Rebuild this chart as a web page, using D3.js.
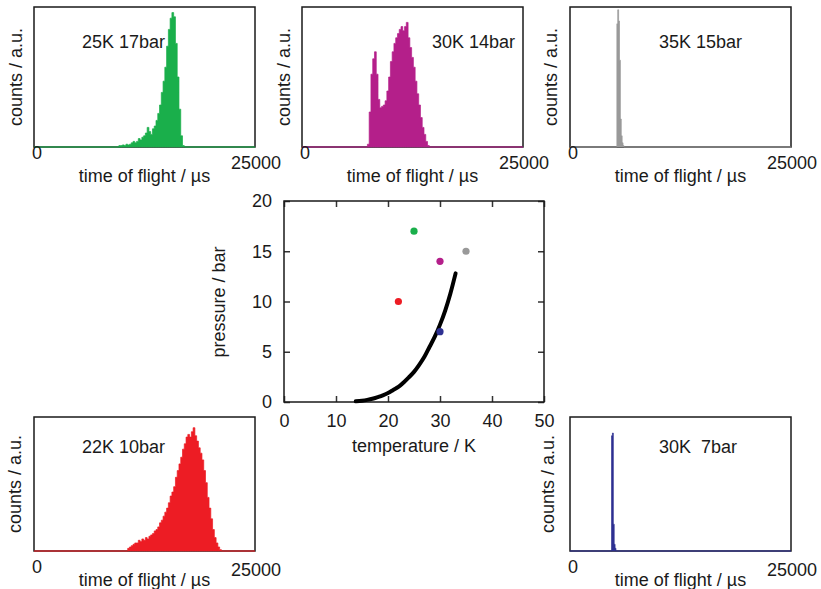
<!DOCTYPE html>
<html>
<head>
<meta charset="utf-8">
<script src="https://cdn.jsdelivr.net/npm/d3@7"></script>
<style>
  body { margin: 0; background: #fff; }
  svg { display: block; font-family: "Liberation Sans", Arial, sans-serif; }
</style>
</head>
<body>
<svg id="chart" width="821" height="589"></svg>
<script>
// time of flight histograms (counts in % of panel height), bins start at *Start in µs
const tofMax = 25000;

const greenStart = 9600, greenBin = 200;
const greenCounts = [1, 1, 1.5, 1, 2, 1.5, 2, 3, 4, 3, 4, 6, 5, 7, 8, 10, 14, 11, 9, 13,
  15, 19, 24, 30, 39, 47, 57, 72, 84, 92, 96, 93, 74, 50, 27, 8, 1];

const magentaStart = 7400, magentaBin = 200;
const magentaCounts = [2, 25, 52, 63, 68, 52, 34, 28, 29, 30, 33, 40, 50, 61, 68, 74, 78, 81,
  84, 86, 83, 86, 89, 78, 71, 64, 57, 47, 38, 30, 21, 14, 9, 4, 1];

const greyStart = 5300, greyBin = 100;
const greyCounts = [88, 98, 90, 62, 20, 8, 3, 1];

const redStart = 10600, redBin = 200;
const redCounts = [2, 3, 4, 5, 6, 6, 8, 7, 9, 8, 10, 9, 11, 12, 13, 15, 16, 18, 21, 23,
  26, 29, 32, 36, 41, 44, 48, 55, 60, 65, 70, 76, 80, 85, 87, 85, 89, 92, 86, 82,
  77, 73, 68, 60, 51, 40, 32, 24, 16, 10, 6, 3, 1];

const blueStart = 4700, blueBin = 100;
const blueCounts = [86, 88, 20, 5, 2];

// hydrogen vapour pressure curve
const curveTemp = [13.8, 15, 16, 17, 18, 19, 20, 21, 22, 23, 24, 25, 26, 27, 28, 29, 30, 31, 32, 33];
const curvePres = [0.07, 0.13, 0.21, 0.32, 0.48, 0.66, 0.9, 1.2, 1.5, 1.95, 2.45, 3.0, 3.7, 4.5, 5.5, 6.5, 7.7, 9.1, 10.8, 12.8];

// measurement points
const pointTemp = [25, 30, 35, 22, 30];
const pointPres = [17, 14, 15, 10, 7];
const pointColor = ["#1aaf4b", "#b41f8a", "#999999", "#ed1c24", "#2e3192"];

const tempTicks = [0, 10, 20, 30, 40, 50];
const presTicks = [0, 5, 10, 15, 20];

const svg = d3.select("#chart");
const ink = "#1a1a1a";

const panels = [
  { counts: greenCounts, start: greenStart, bin: greenBin, color: pointColor[0], label: "25K 17bar",
    x: 34, y: 7, w: 221, h: 140, lx: 48, ly: 41, ytx: -12, d0: 12, d1: 22, dt: 35 },
  { counts: magentaCounts, start: magentaStart, bin: magentaBin, color: pointColor[1], label: "30K 14bar",
    x: 302, y: 7, w: 221, h: 140, lx: 130, ly: 41, ytx: -12, d0: 12, d1: 22, dt: 35 },
  { counts: greyCounts, start: greyStart, bin: greyBin, color: pointColor[2], label: "35K 15bar",
    x: 570, y: 7, w: 221, h: 140, lx: 89, ly: 41, ytx: -13, d0: 12, d1: 22, dt: 35 },
  { counts: redCounts, start: redStart, bin: redBin, color: pointColor[3], label: "22K 10bar",
    x: 34, y: 417, w: 221, h: 134, lx: 48, ly: 36, ytx: -13, d0: 22, d1: 25, dt: 35 },
  { counts: blueCounts, start: blueStart, bin: blueBin, color: pointColor[4], label: "30K  7bar",
    x: 570, y: 417, w: 221, h: 134, lx: 89, ly: 36, ytx: -16, d0: 22, d1: 25, dt: 35 }
];

panels.forEach(p => {
  const x = d3.scaleLinear().domain([0, tofMax]).range([p.x, p.x + p.w]);
  const y = d3.scaleLinear().domain([0, 100]).range([p.y + p.h, p.y]);

  const bins = [{ t: 0, v: 0 }];
  p.counts.forEach((v, i) => bins.push({ t: p.start + i * p.bin, v: v }));
  bins.push({ t: p.start + p.counts.length * p.bin, v: 0 });
  bins.push({ t: tofMax, v: 0 });

  const g = svg.append("g");

  g.append("rect")
    .attr("x", p.x).attr("y", p.y).attr("width", p.w).attr("height", p.h)
    .attr("fill", "none").attr("stroke", ink).attr("stroke-width", 1.5);

  const area = d3.area().x(d => x(d.t)).y0(y(0)).y1(d => y(d.v)).curve(d3.curveStepAfter);
  g.append("path").datum(bins)
    .attr("fill", p.color)
    .attr("stroke", p.color).attr("stroke-width", 0.7)
    .attr("d", area);

  // tick labels
  g.append("text").attr("x", x(0) + 3).attr("y", p.y + p.h + p.d0)
    .attr("text-anchor", "middle").attr("font-size", 18).attr("fill", ink).text("0");
  g.append("text").attr("x", x(tofMax) + 1).attr("y", p.y + p.h + p.d1)
    .attr("text-anchor", "middle").attr("font-size", 18).attr("fill", ink).text(d3.format("d")(tofMax));

  g.append("text").attr("x", p.x + p.w / 2).attr("y", p.y + p.h + p.dt)
    .attr("text-anchor", "middle").attr("font-size", 18).attr("fill", ink)
    .text("time of flight / µs");

  g.append("text")
    .attr("transform", `translate(${p.x + p.ytx},${p.y + p.h / 2}) rotate(-90)`)
    .attr("text-anchor", "middle").attr("font-size", 18).attr("fill", ink)
    .text("counts / a.u.");

  g.append("text").attr("x", p.x + p.lx).attr("y", p.y + p.ly)
    .attr("font-size", 18).attr("fill", ink).style("white-space", "pre")
    .text(p.label);
});

// centre phase diagram
const cx = d3.scaleLinear().domain([0, 50]).range([284, 544]);
const cy = d3.scaleLinear().domain([0, 20]).range([402, 201]);
const cg = svg.append("g");

const styleAxis = sel => {
  sel.select(".domain").remove();
  sel.selectAll("line").attr("stroke", "#333").attr("stroke-width", 1.5);
  sel.selectAll("text").attr("font-size", 18).attr("fill", ink).attr("font-family", "Liberation Sans, Arial, sans-serif");
};

cg.append("g").attr("transform", "translate(0,402)")
  .call(d3.axisBottom(cx).tickValues(tempTicks).tickSize(-6).tickPadding(12)).call(styleAxis);
cg.append("g").attr("transform", "translate(0,201)")
  .call(d3.axisTop(cx).tickValues(tempTicks).tickSize(-6).tickFormat("")).call(styleAxis);
cg.append("g").attr("transform", "translate(284,0)")
  .call(d3.axisLeft(cy).tickValues(presTicks).tickSize(-6).tickPadding(12)).call(styleAxis);
cg.append("g").attr("transform", "translate(544,0)")
  .call(d3.axisRight(cy).tickValues(presTicks).tickSize(-6).tickFormat("")).call(styleAxis);

cg.append("rect").attr("x", 284).attr("y", 201).attr("width", 260).attr("height", 201)
  .attr("fill", "none").attr("stroke", ink).attr("stroke-width", 1.5);

const line = d3.line().x((d, i) => cx(curveTemp[i])).y(d => cy(d)).curve(d3.curveMonotoneX);
cg.append("path").datum(curvePres)
  .attr("fill", "none").attr("stroke", "#000").attr("stroke-width", 4)
  .attr("stroke-linecap", "round").attr("d", line);

cg.selectAll(".pt").data(pointTemp).join("circle")
  .attr("class", "pt")
  .attr("cx", d => cx(d))
  .attr("cy", (d, i) => cy(pointPres[i]))
  .attr("r", 3.6)
  .attr("fill", (d, i) => pointColor[i]);

cg.append("text").attr("x", 414).attr("y", 452).attr("text-anchor", "middle")
  .attr("font-size", 18).attr("fill", ink).text("temperature / K");
cg.append("text").attr("transform", "translate(225,302) rotate(-90)")
  .attr("text-anchor", "middle").attr("font-size", 18).attr("fill", ink).text("pressure / bar");
</script>
</body>
</html>
